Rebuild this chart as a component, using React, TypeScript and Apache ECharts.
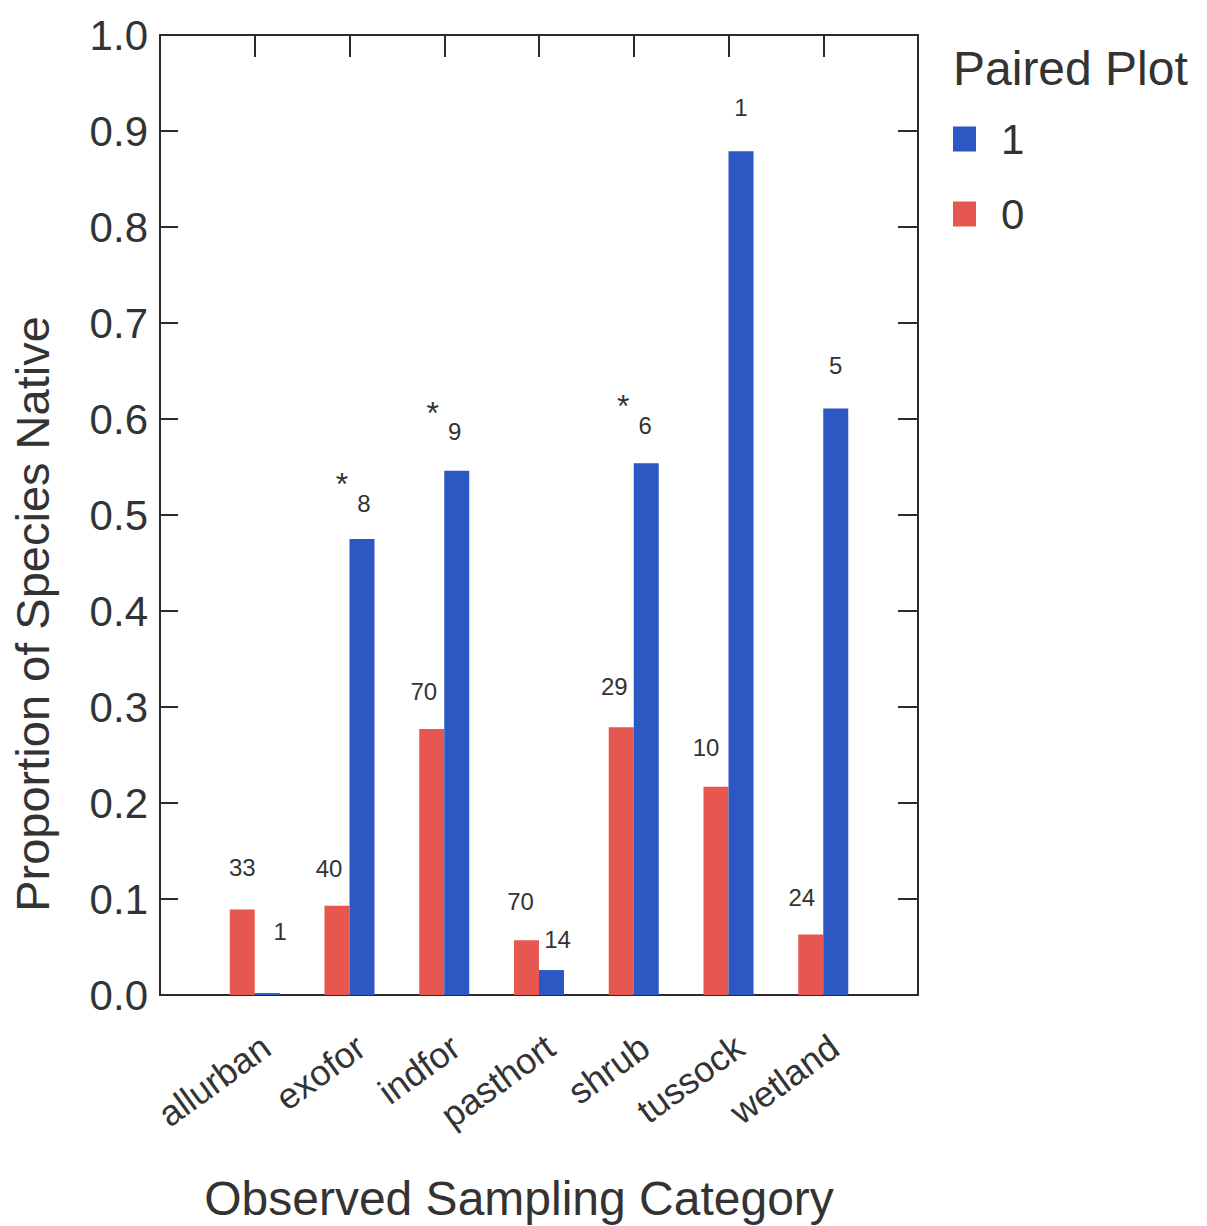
import React, { useEffect, useRef } from "react";
import * as echarts from "echarts";

// ---- data ----
const categories = ["allurban", "exofor", "indfor", "pasthort", "shrub", "tussock", "wetland"];
const pairedPlot0 = [0.089, 0.093, 0.277, 0.057, 0.279, 0.217, 0.063];
const pairedPlot1 = [0.002, 0.475, 0.546, 0.026, 0.554, 0.879, 0.611];
const sampleSize0 = [33, 40, 70, 70, 29, 10, 24];
const sampleSize1 = [1, 8, 9, 14, 6, 1, 5];
const significant1 = [false, true, true, false, true, false, false];
const seriesNames = ["1", "0"];

// ---- label nudges (layout only) ----
const nudge0 = [[0, -3], [-8, 2], [-8, 1], [-6, 0], [-7, -2], [-10, 0], [-9, 2]];
const nudge1 = [[13, -22], [2, 4], [-2, 1], [6, 9], [-1, 2], [0, -4], [0, -3]];

const RED = "#e5574f";
const BLUE = "#2b58c2";
const INK = "#2a2a2a";
const FONT = "'Liberation Sans', Arial, sans-serif";

export default function App() {
  const ref = useRef<HTMLDivElement>(null);
  useEffect(() => {
    if (!ref.current) return;
    const chart = echarts.init(ref.current, null, { renderer: "svg" });
    const xCats = ["", ...categories, ""];
    const lineStyle = { color: INK, width: 2 };

    const data0 = [
      null,
      ...pairedPlot0.map((v, i) => ({ value: v, label: { offset: nudge0[i] } })),
      null,
    ];
    const data1 = [
      null,
      ...pairedPlot1.map((v, i) => ({ value: v, label: { offset: nudge1[i] } })),
      null,
    ];

    chart.setOption({
      animation: false,
      backgroundColor: "#ffffff",
      title: {
        text: "Paired Plot",
        left: 953,
        top: 44,
        padding: 0,
        textStyle: { fontSize: 48, fontWeight: "normal", color: "#333", fontFamily: FONT },
      },
      legend: {
        data: seriesNames,
        orient: "vertical",
        left: 953,
        top: 118,
        padding: 0,
        itemWidth: 23,
        itemHeight: 25,
        itemGap: 33,
        icon: "rect",
        selectedMode: false,
        textStyle: { fontSize: 42, color: "#333", fontFamily: FONT, padding: [0, 0, 0, 20] },
      },
      grid: { left: 160, right: 289, top: 35, bottom: 231, containLabel: false },
      xAxis: [
        {
          type: "category",
          data: xCats,
          boundaryGap: false,
          position: "bottom",
          axisLine: { show: true, onZero: false, lineStyle },
          axisTick: { show: false },
          axisLabel: {
            interval: 0,
            rotate: 36,
            margin: 56,
            fontSize: 36,
            color: "#333",
            fontFamily: FONT,
            padding: [0, -14, 0, 0],
          },
          splitLine: { show: false },
        },
        {
          type: "category",
          data: xCats,
          boundaryGap: false,
          position: "top",
          axisLine: { show: true, onZero: false, lineStyle },
          axisTick: { show: true, inside: true, length: 22, interval: 0, lineStyle },
          axisLabel: { show: false },
          splitLine: { show: false },
        },
      ],
      yAxis: [
        {
          type: "value",
          min: 0,
          max: 1,
          interval: 0.1,
          axisLine: { show: true, onZero: false, lineStyle },
          axisTick: { show: true, inside: true, length: 18, lineStyle },
          axisLabel: {
            fontSize: 42,
            margin: 12,
            color: "#333",
            fontFamily: FONT,
            formatter: (v: number) => v.toFixed(1),
          },
          splitLine: { show: false },
        },
        {
          type: "value",
          position: "right",
          min: 0,
          max: 1,
          interval: 0.1,
          axisLine: { show: true, onZero: false, lineStyle },
          axisTick: { show: true, inside: true, length: 20, lineStyle },
          axisLabel: { show: false },
          splitLine: { show: false },
        },
      ],
      series: [
        {
          name: "0",
          type: "bar",
          xAxisIndex: 0,
          yAxisIndex: 0,
          barWidth: 25,
          barGap: "0%",
          itemStyle: { color: RED },
          data: data0,
          label: {
            show: true,
            position: "top",
            distance: 27,
            fontSize: 24,
            color: "#333",
            fontFamily: FONT,
            formatter: (p: any) => {
              const n = sampleSize0[p.dataIndex - 1];
              return n === undefined ? "" : String(n);
            },
          },
        },
        {
          name: "1",
          type: "bar",
          xAxisIndex: 0,
          yAxisIndex: 0,
          barWidth: 25,
          barGap: "0%",
          itemStyle: { color: BLUE },
          data: data1,
          label: {
            show: true,
            position: "top",
            distance: 28,
            fontSize: 24,
            color: "#333",
            fontFamily: FONT,
            rich: {
              s: { fontSize: 32, lineHeight: 14, padding: [0, 44, 0, 0], color: "#333", fontFamily: FONT },
              n: { fontSize: 24, lineHeight: 24, color: "#333", fontFamily: FONT },
            },
            formatter: (p: any) => {
              const i = p.dataIndex - 1;
              const n = sampleSize1[i];
              if (n === undefined) return "";
              return significant1[i] ? `{s|*}\n{n|${n}}` : `{n|${n}}`;
            },
          },
        },
      ],
      graphic: [
        {
          type: "text",
          x: 32,
          y: 614,
          rotation: Math.PI / 2,
          style: {
            text: "Proportion of Species Native",
            fontSize: 47,
            fill: "#333",
            fontFamily: FONT,
            textAlign: "center",
            textVerticalAlign: "middle",
          },
        },
        {
          type: "text",
          x: 519,
          y: 1198,
          style: {
            text: "Observed Sampling Category",
            fontSize: 48,
            fill: "#333",
            fontFamily: FONT,
            textAlign: "center",
            textVerticalAlign: "middle",
          },
        },
      ],
    });
    return () => chart.dispose();
  }, []);
  return (
    <div
      ref={ref}
      style={{ position: "absolute", left: 0, top: 0, width: 1207, height: 1226, background: "#fff" }}
    />
  );
}
